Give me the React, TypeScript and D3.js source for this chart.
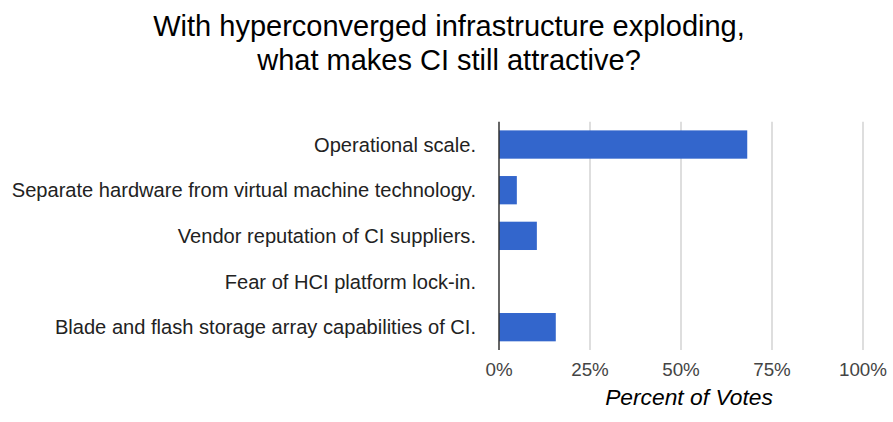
import React from "react";
import * as d3 from "d3";

const titleLines = ["With hyperconverged infrastructure exploding,", "what makes CI still attractive?"];
const categories = [
  "Operational scale.",
  "Separate hardware from virtual machine technology.",
  "Vendor reputation of CI suppliers.",
  "Fear of HCI platform lock-in.",
  "Blade and flash storage array capabilities of CI.",
];
const values = [68.2, 4.9, 10.4, 0, 15.6];
const xTicks = [0, 25, 50, 75, 100];
const xTitle = "Percent of Votes";

const W = 893;
const H = 422;
const FONT = "'Liberation Sans', Arial, sans-serif";

export default function App() {
  const x = d3.scaleLinear().domain([0, 100]).range([499, 863]);
  const y = d3
    .scaleBand<string>()
    .domain(categories)
    .range([121.7, 350])
    .paddingInner(0.38)
    .paddingOuter(0.19);

  return (
    <svg
      width={W}
      height={H}
      style={{ position: "absolute", left: 0, top: 0, background: "#fff" }}
      fontFamily={FONT}
    >
      {titleLines.map((t, i) => (
        <text key={i} x={449} y={36 + i * 34} textAnchor="middle" fontSize={29} fill="#000">
          {t}
        </text>
      ))}
      {xTicks.map((t) => (
        <g key={t}>
          {t !== 0 && (
            <line x1={x(t)} x2={x(t)} y1={121.7} y2={350} stroke="#cccccc" strokeWidth={1.3} />
          )}
          <text x={x(t)} y={376} textAnchor="middle" fontSize={18.8} fill="#444">
            {t}%
          </text>
        </g>
      ))}
      {categories.map((c, i) => (
        <g key={c}>
          <rect
            x={x(0)}
            y={y(c)!}
            width={x(values[i]) - x(0)}
            height={y.bandwidth()}
            fill="#3366cc"
          />
          <text
            x={476}
            y={y(c)! + y.bandwidth() / 2}
            dy="0.35em"
            textAnchor="end"
            fontSize={20.1}
            fill="#222"
          >
            {c}
          </text>
        </g>
      ))}
      <line x1={x(0)} x2={x(0)} y1={121.7} y2={350} stroke="#333" strokeWidth={1.5} />
      <text x={689} y={405} textAnchor="middle" fontSize={22.8} fontStyle="italic" fill="#000">
        {xTitle}
      </text>
    </svg>
  );
}
